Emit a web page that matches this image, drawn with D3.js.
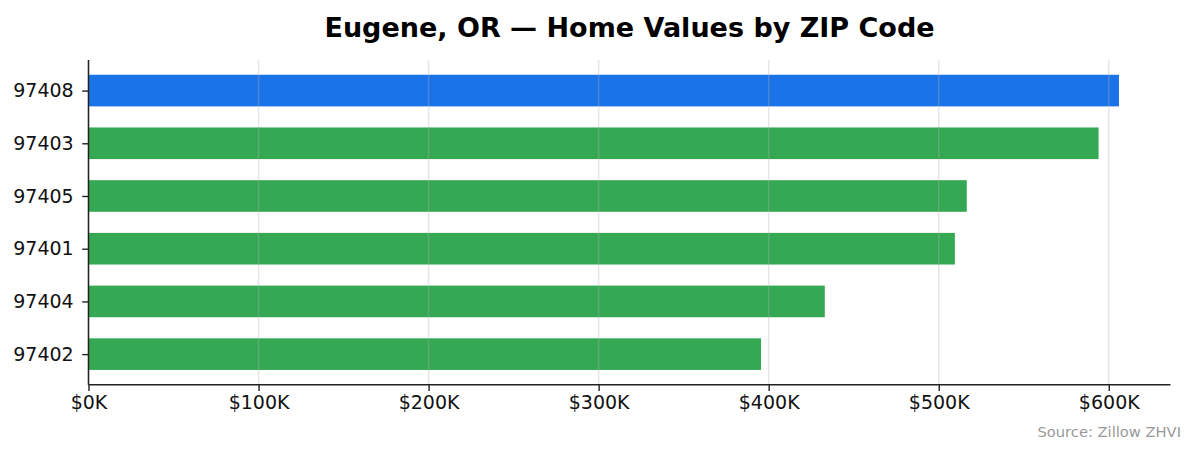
<!DOCTYPE html>
<html>
<head>
<meta charset="utf-8">
<script src="https://cdn.jsdelivr.net/npm/d3@7/dist/d3.min.js"></script>
<style>
  html, body { margin: 0; padding: 0; background: #fff; }
  svg { display: block; font-family: "DejaVu Sans", sans-serif; }
</style>
</head>
<body>
<svg id="chart" width="1195" height="455"></svg>
<script>
const zips = ["97408", "97403", "97405", "97401", "97404", "97402"];
const values = [606000, 594000, 516500, 509500, 433000, 395500];
const highlight = ["97408"];
const xTicks = [0, 100000, 200000, 300000, 400000, 500000, 600000];
const xTickLabels = ["$0K", "$100K", "$200K", "$300K", "$400K", "$500K", "$600K"];
const title = "Eugene, OR — Home Values by ZIP Code";
const source = "Source: Zillow ZHVI";

(function () {
const svg = d3.select("#chart");
const mLeft = 88.5, mRight = 1170.5, mTop = 60, mBottom = 384.7;

const xMax = d3.max(values) * 1.05;
const x = d3.scaleLinear().domain([0, xMax]).range([mLeft, mRight]);
const barH = 0.6;
const n = zips.length;
const pad = (n - 1 + barH) * 0.05;
const y = d3.scaleLinear()
  .domain([-barH / 2 - pad, n - 1 + barH / 2 + pad])
  .range([mTop, mBottom]);

// bars
svg.append("g").selectAll("rect")
  .data(zips)
  .join("rect")
  .attr("x", x(0))
  .attr("y", (d, i) => y(i - barH / 2))
  .attr("width", (d, i) => x(values[i]) - x(0))
  .attr("height", y(barH) - y(0))
  .attr("fill", d => highlight.includes(d) ? "#1a73e8" : "#34a853");

// grid (drawn above bars)
svg.append("g").selectAll("line")
  .data(xTicks)
  .join("line")
  .attr("x1", d => x(d)).attr("x2", d => x(d))
  .attr("y1", mTop).attr("y2", mBottom)
  .attr("stroke", "#b0b0b0")
  .attr("stroke-opacity", 0.32)
  .attr("stroke-width", 1.5);

// x axis
const xAxis = d3.axisBottom(x)
  .tickValues(xTicks)
  .tickFormat((d, i) => xTickLabels[i])
  .tickSize(6.3)
  .tickPadding(5)
  .tickSizeOuter(0);
const gx = svg.append("g").attr("transform", `translate(0,${mBottom})`).call(xAxis);
gx.select(".domain").attr("stroke", "#222").attr("stroke-width", 1.5)
  .attr("d", `M${mLeft},0H${mRight}`);
gx.selectAll(".tick line").attr("stroke", "#222").attr("stroke-width", 1.4);
gx.selectAll(".tick text").attr("fill", "#111").style("font-size", "19px")
  .style("font-family", "'DejaVu Sans', sans-serif");

// y axis
const yAxis = d3.axisLeft(y)
  .tickValues(d3.range(n))
  .tickFormat(i => zips[i])
  .tickSize(6.3)
  .tickPadding(8.5)
  .tickSizeOuter(0);
const gy = svg.append("g").attr("transform", `translate(${mLeft},0)`).call(yAxis);
gy.select(".domain").attr("stroke", "#222").attr("stroke-width", 1.5)
  .attr("d", `M0,${mTop}V${mBottom}`);
gy.selectAll(".tick line").attr("stroke", "#222").attr("stroke-width", 1.4);
gy.selectAll(".tick text").attr("fill", "#111").style("font-size", "19px")
  .style("font-family", "'DejaVu Sans', sans-serif");

// title
svg.append("text")
  .attr("x", (mLeft + mRight) / 2)
  .attr("y", 36.5)
  .attr("text-anchor", "middle")
  .style("font-size", "27px")
  .style("font-weight", "bold")
  .attr("fill", "#000")
  .text(title);

// source
svg.append("text")
  .attr("x", 1181)
  .attr("y", 437)
  .attr("text-anchor", "end")
  .style("font-size", "14.7px")
  .attr("fill", "#999")
  .text(source);
})();
</script>
</body>
</html>
